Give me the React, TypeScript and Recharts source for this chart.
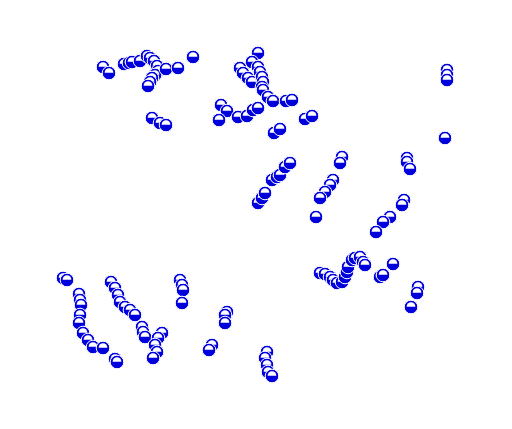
import React from "react";
import { ScatterChart, Scatter, XAxis, YAxis } from "recharts";

const topLeft: [number, number][] = [
  [103, 67], [109, 73], [124, 64], [129, 63], [132, 62], [140, 61], [147, 56], [150, 58],
  [154, 61], [157, 66], [158, 71], [155, 75], [152, 78], [150, 82], [148, 86], [166, 69],
  [178, 68], [193, 57], [152, 118], [160, 123], [166, 125],
];
const topMid: [number, number][] = [
  [258, 53], [252, 62], [258, 67], [240, 68], [243, 73], [248, 78], [252, 82], [260, 72],
  [262, 77], [263, 82], [262, 87], [263, 90], [268, 97], [273, 101], [286, 101], [292, 100],
  [221, 105], [227, 111], [219, 120], [238, 117], [247, 116], [253, 110], [258, 108],
  [274, 133], [280, 129], [305, 119], [312, 116],
];
const midLines: [number, number][] = [
  [258, 203], [262, 198], [265, 193], [272, 180], [277, 177], [280, 175], [285, 167], [290, 163],
  [342, 157], [340, 163], [333, 180], [330, 185], [325, 192], [320, 198], [316, 217],
];
const rightSide: [number, number][] = [
  [407, 158], [407, 162], [410, 169], [404, 200], [402, 205], [390, 217], [383, 222], [376, 232],
  [447, 70], [447, 75], [447, 80], [445, 138],
];
const bottomRight: [number, number][] = [
  [320, 273], [325, 274], [330, 277], [333, 280], [337, 283], [342, 282], [345, 277], [347, 272],
  [348, 267], [352, 260], [355, 258], [360, 257], [363, 262], [365, 265], [380, 277], [383, 275],
  [393, 264], [418, 287], [417, 293], [411, 307],
];
const bottomLeft: [number, number][] = [
  [63, 278], [67, 280], [79, 294], [80, 300], [81, 305], [80, 315], [79, 323], [83, 333],
  [88, 340], [93, 347], [103, 348], [115, 359], [117, 362], [111, 282], [115, 288], [118, 295],
  [120, 302], [125, 307], [130, 310], [135, 315], [142, 327], [143, 332], [145, 337], [162, 333],
  [158, 338], [155, 345], [157, 352], [153, 358],
];
const bottomMid: [number, number][] = [
  [180, 280], [182, 285], [183, 290], [182, 303], [227, 312], [225, 315], [225, 323], [212, 345],
  [209, 350], [267, 352], [265, 358], [267, 365], [268, 372], [272, 376],
];

const data = [...topLeft, ...topMid, ...midLines, ...rightSide, ...bottomRight, ...bottomLeft, ...bottomMid].map(
  ([x, y]) => ({ x, y })
);

const Marker = (props: any) => {
  const { cx, cy } = props;
  if (cx == null || cy == null) return null;
  const r = 6.8;
  const ir = 4.4;
  const cyc = cy - 0.3;
  return (
    <g>
      <circle cx={cx} cy={cy} r={r} fill="#0000dc" stroke="#ffffff" strokeWidth={1} />
      <path
        d={`M ${cx - ir} ${cyc} A ${ir} ${ir} 0 0 1 ${cx + ir} ${cyc} Z`}
        fill="#ffffff"
      />
    </g>
  );
};

export default function App() {
  return (
    <div style={{ position: "absolute", left: 0, top: 0, width: 512, height: 429, background: "#fff" }}>
      <ScatterChart width={512} height={429} margin={{ top: 0, right: 0, bottom: 0, left: 0 }}>
        <XAxis type="number" dataKey="x" domain={[0, 512]} hide />
        <YAxis type="number" dataKey="y" domain={[0, 429]} reversed hide />
        <Scatter data={data} shape={<Marker />} isAnimationActive={false} />
      </ScatterChart>
    </div>
  );
}
